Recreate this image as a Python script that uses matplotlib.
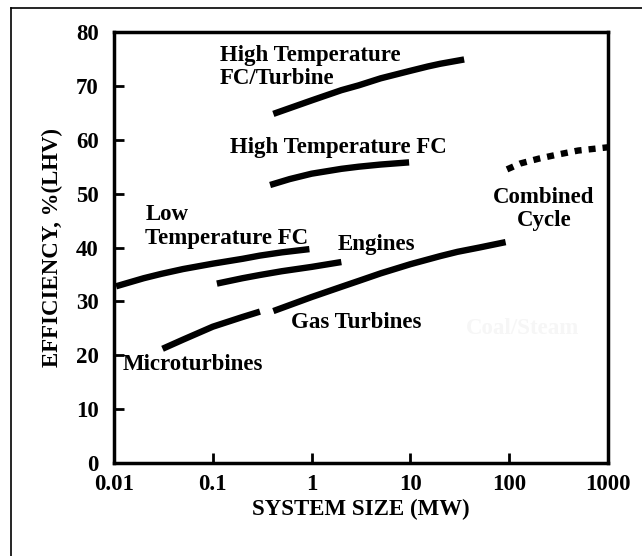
import matplotlib
matplotlib.use("Agg")
import matplotlib.pyplot as plt
from matplotlib.lines import Line2D

plt.rcParams['font.family'] = ['Liberation Serif', 'DejaVu Serif']
plt.rcParams['font.weight'] = 'bold'

# Curves (system size MW, efficiency %)
ht_fc_turbine_x = [0.41, 0.7, 1.0, 2.0, 3.0, 5.0, 10.0, 15.0, 20.0, 35.0]
ht_fc_turbine_y = [64.8, 66.3, 67.3, 69.2, 70.1, 71.4, 72.8, 73.6, 74.1, 74.9]

ht_fc_x = [0.38, 0.6, 1.0, 2.0, 3.0, 5.0, 9.7]
ht_fc_y = [51.6, 52.7, 53.7, 54.6, 55.0, 55.4, 55.8]

lt_fc_x = [0.0105, 0.02, 0.03, 0.05, 0.1, 0.2, 0.3, 0.5, 0.95]
lt_fc_y = [32.8, 34.3, 35.1, 36.0, 37.0, 37.9, 38.5, 39.1, 39.7]

engines_x = [0.11, 0.2, 0.3, 0.5, 1.0, 2.0]
engines_y = [33.3, 34.3, 34.9, 35.6, 36.4, 37.3]

micro_x = [0.031, 0.05, 0.1, 0.2, 0.30]
micro_y = [21.2, 22.9, 25.3, 27.1, 28.1]

gas_x = [0.41, 1.0, 2.0, 3.0, 5.0, 10.0, 20.0, 30.0, 50.0, 92.0]
gas_y = [28.2, 30.8, 32.7, 33.8, 35.2, 36.9, 38.4, 39.2, 40.0, 41.0]

cc_x = [95.0, 130.0, 200.0, 300.0, 500.0, 1000.0]
cc_y = [54.5, 55.6, 56.5, 57.2, 58.0, 58.6]

x_ticks = [0.01, 0.1, 1, 10, 100, 1000]
x_tick_labels = ['0.01', '0.1', '1', '10', '100', '1000']
y_ticks = [0, 10, 20, 30, 40, 50, 60, 70, 80]

fig = plt.figure(figsize=(6.42, 5.56), dpi=100)
ax = fig.add_axes([114/642, 1-463/556, (608-114)/642, (463-32)/556])

lw = 4.6
for xs, ys in [(ht_fc_turbine_x, ht_fc_turbine_y), (ht_fc_x, ht_fc_y),
               (lt_fc_x, lt_fc_y), (engines_x, engines_y),
               (micro_x, micro_y), (gas_x, gas_y)]:
    ax.plot(xs, ys, color='black', lw=lw, solid_capstyle='butt',
            solid_joinstyle='round')
ax.plot(cc_x, cc_y, color='black', lw=lw, linestyle=(0, (1.1, 1.1)),
        dash_capstyle='butt')

ax.set_xscale('log')
ax.set_xlim(0.01, 1000)
ax.set_ylim(0, 80)
ax.set_xticks(x_ticks)
ax.set_xticklabels(x_tick_labels)
ax.set_yticks(y_ticks)
ax.minorticks_off()
ax.tick_params(axis='both', direction='in', length=7, width=2, labelsize=16.5,
               top=False, right=False)
ax.tick_params(axis='x', pad=8)
ax.tick_params(axis='y', pad=11)
for s in ax.spines.values():
    s.set_linewidth(2.5)

ax.set_xlabel('SYSTEM SIZE (MW)', fontsize=16.5, fontweight='bold', labelpad=3)
ax.set_ylabel('EFFICIENCY, %(LHV)', fontsize=16.5, fontweight='bold', labelpad=9)

fs = 16.5
ax.text(0.118, 77.6, 'High Temperature\nFC/Turbine', fontsize=fs, ha='left', va='top', linespacing=1.15)
ax.text(0.149, 57.5, 'High Temperature FC', fontsize=fs, ha='left', va='baseline')
ax.text(0.0208, 48.0, 'Low\nTemperature FC', fontsize=fs, ha='left', va='top', linespacing=1.15)
ax.text(1.83, 39.6, 'Engines', fontsize=fs, ha='left', va='baseline')
ax.text(224, 51.3, 'Combined\nCycle', fontsize=fs, ha='center', va='top', linespacing=1.15)
ax.text(0.62, 25.1, 'Gas Turbines', fontsize=fs, ha='left', va='baseline')
ax.text(36.7, 23.9, 'Coal/Steam', fontsize=fs, ha='left', va='baseline', color='#f6f6f6')
ax.text(0.0121, 17.2, 'Microturbines', fontsize=fs, ha='left', va='baseline')

# outer frame (top and left edges)
fig.add_artist(Line2D([11.5/642, 11.5/642], [0, 1-8/556], transform=fig.transFigure, color='black', lw=1.2))
fig.add_artist(Line2D([11.5/642, 1], [1-8/556, 1-8/556], transform=fig.transFigure, color='black', lw=1.2))

fig.savefig('out.png', dpi=100)
